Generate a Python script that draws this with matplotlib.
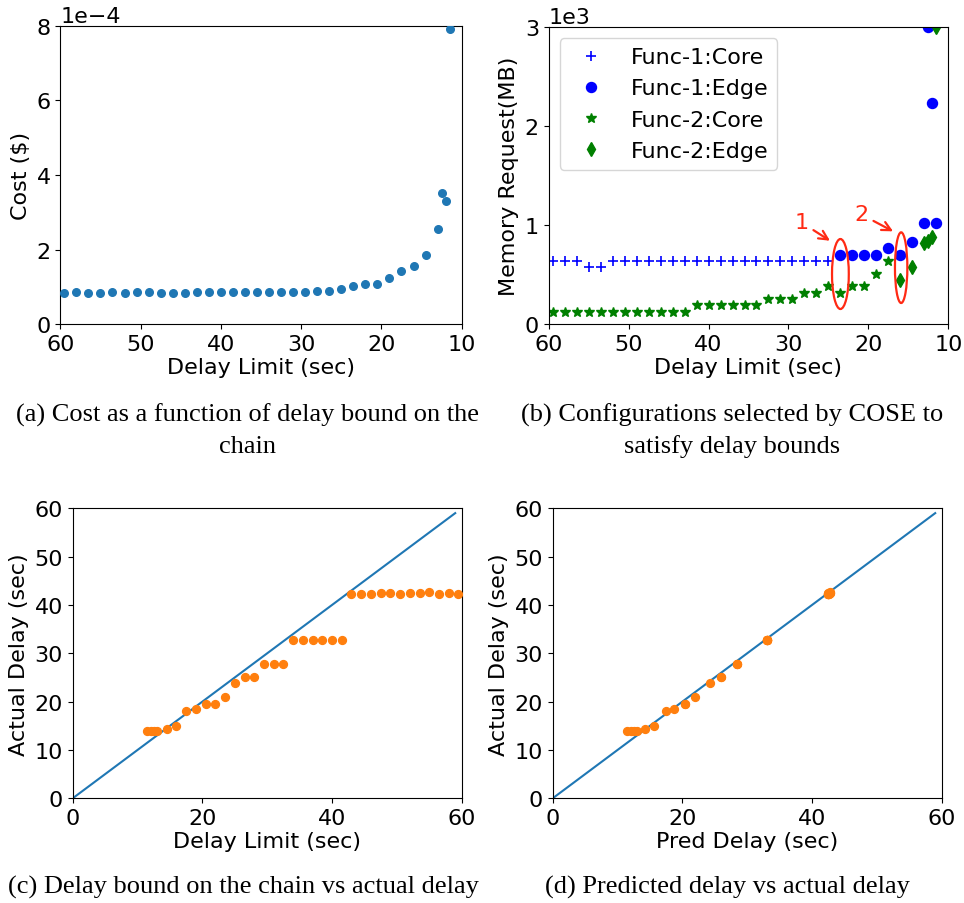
import numpy as np
import matplotlib
matplotlib.use("Agg")
import matplotlib.pyplot as plt
from matplotlib.patches import Ellipse

# ---------------- data ----------------
# delay limits (sec), ascending
delay_limit = [11.5, 12, 12.5, 13, 14.5, 16, 17.5, 19, 20.5, 22, 23.5, 25, 26.5, 28,
               29.5, 31, 32.5, 34, 35.5, 37, 38.5, 40, 41.5, 43, 44.5, 46, 47.5, 49,
               50.5, 52, 53.5, 55, 56.5, 58, 59.5]
# cost in units of 1e-4 $
cost_e4 = [7.92, 3.31, 3.52, 2.55, 1.86, 1.55, 1.44, 1.23, 1.07, 1.07, 1.03, 0.955, 0.90, 0.90,
           0.86, 0.86, 0.86, 0.86, 0.86, 0.86, 0.86, 0.86, 0.86, 0.86, 0.85, 0.85, 0.85, 0.86,
           0.86, 0.85, 0.86, 0.84, 0.85, 0.86, 0.84]
actual_delay = [14.0, 14.0, 14.0, 14.0, 14.34, 14.97, 18.14, 18.48, 19.59, 19.59, 20.9, 23.8,
                25.17, 25.17, 27.8, 27.8, 27.8, 32.76, 32.76, 32.76, 32.76, 32.76, 32.76,
                42.3, 42.3, 42.3, 42.5, 42.5, 42.3, 42.5, 42.5, 42.7, 42.3, 42.5, 42.3]
pred_delay = [11.5, 12.0, 12.5, 13.0, 14.2, 15.6, 17.5, 18.7, 20.4, 20.4, 21.95, 24.3,
              26.0, 26.0, 28.5, 28.5, 28.5, 33.0, 33.0, 33.0, 33.0, 33.0, 33.0,
              42.4, 42.5, 42.6, 42.7, 42.6, 42.4, 42.7, 42.5, 42.8, 42.5, 42.6, 42.4]

# memory requests (MB)
f1_core_x = [25, 26.5, 28, 29.5, 31, 32.5, 34, 35.5, 37, 38.5, 40, 41.5, 43, 44.5, 46,
             47.5, 49, 50.5, 52, 53.5, 55, 56.5, 58, 59.5]
f1_core_y = [640, 640, 640, 640, 640, 640, 640, 640, 640, 640, 640, 640, 640, 640, 640,
             640, 640, 640, 640, 576, 576, 640, 640, 640]
f1_edge_x = [11.5, 12, 12.5, 13, 14.5, 16, 17.5, 19, 20.5, 22, 23.5]
f1_edge_y = [1024, 2240, 3008, 1024, 832, 704, 768, 704, 704, 704, 704]
f2_core_x = [17.5, 19, 20.5, 22, 23.5, 25, 26.5, 28, 29.5, 31, 32.5, 34, 35.5, 37, 38.5,
             40, 41.5, 43, 44.5, 46, 47.5, 49, 50.5, 52, 53.5, 55, 56.5, 58, 59.5]
f2_core_y = [640, 512, 384, 384, 320, 384, 320, 320, 256, 256, 256, 192, 192, 192, 192,
             192, 192, 128, 128, 128, 128, 128, 128, 128, 128, 128, 128, 128, 128]
f2_edge_x = [11.5, 12, 12.5, 13, 14.5, 16]
f2_edge_y = [3008, 880, 845, 818, 576, 448]

diag = np.arange(0, 60)

FS = 16
plt.rcParams['font.family'] = ['DejaVu Sans']
plt.rcParams['font.size'] = FS

fig = plt.figure(figsize=(9.64, 9.04), dpi=100)
W, H = 964, 904

def axes_px(l, t, r, b):
    return fig.add_axes([l / W, 1 - b / H, (r - l) / W, (b - t) / H])

blue = '#1f77b4'
orange = '#ff7f0e'

# (a)
ax = axes_px(60.3, 26.7, 461.7, 325.3)
ax.scatter(delay_limit, np.array(cost_e4) * 1e-4, s=30, color=blue, zorder=3)
ax.set_xlim(60, 10)
ax.set_ylim(0, 8e-4)
ax.set_xticks([60, 50, 40, 30, 20, 10])
ax.set_yticks([0, 2e-4, 4e-4, 6e-4, 8e-4])
ax.ticklabel_format(axis='y', style='sci', scilimits=(0, 0))
ax.set_xlabel('Delay Limit (sec)', labelpad=2)
ax.set_ylabel('Cost ($)')

# (b)
ax = axes_px(548.7, 28.3, 948.3, 325.3)
ax.plot(f1_core_x, f1_core_y, '+', color='blue', ms=7, mew=1.2, label='Func-1:Core')
ax.plot(f1_edge_x, f1_edge_y, 'o', color='blue', ms=7.2, label='Func-1:Edge')
ax.plot(f2_core_x, f2_core_y, '*', color='green', ms=7.5, label='Func-2:Core')
ax.plot(f2_edge_x, f2_edge_y, 'd', color='green', ms=7, label='Func-2:Edge')
ax.set_xlim(60, 10)
ax.set_ylim(0, 3000)
ax.set_xticks([60, 50, 40, 30, 20, 10])
ax.set_yticks([0, 1000, 2000, 3000])
ax.ticklabel_format(axis='y', style='sci', scilimits=(0, 0))
ax.set_xlabel('Delay Limit (sec)', labelpad=2)
ax.set_ylabel('Memory Request(MB)')
ax.legend(loc='upper left', fontsize=FS)
red = '#ff2a14'
ax.add_patch(Ellipse((23.5, 508), 2.1, 707, fill=False, edgecolor=red, lw=1.6, zorder=4))
ax.add_patch(Ellipse((15.9, 572), 1.55, 714, fill=False, edgecolor=red, lw=1.6, zorder=4))
ax.annotate('1', xy=(24.8, 844), xytext=(28.4, 1030), color=red, ha='center', va='center',
            fontsize=FS, arrowprops=dict(arrowstyle='->', color=red, lw=1.6, shrinkA=2, shrinkB=0))
ax.annotate('2', xy=(16.9, 939), xytext=(20.9, 1110), color=red, ha='center', va='center',
            fontsize=FS, arrowprops=dict(arrowstyle='->', color=red, lw=1.6, shrinkA=2, shrinkB=0))

# (c)
ax = axes_px(72.7, 509.3, 461.7, 799.3)
ax.plot(diag, diag, color=blue, lw=1.5)
ax.scatter(delay_limit, actual_delay, s=32, color=orange, zorder=3)
ax.set_xlim(0, 60)
ax.set_ylim(0, 60)
ax.set_xticks([0, 20, 40, 60])
ax.set_yticks([0, 10, 20, 30, 40, 50, 60])
ax.set_xlabel('Delay Limit (sec)', labelpad=2)
ax.set_ylabel('Actual Delay (sec)')

# (d)
ax = axes_px(552.7, 509.3, 941.7, 799.3)
ax.plot(diag, diag, color=blue, lw=1.5)
ax.scatter(pred_delay, actual_delay, s=32, color=orange, zorder=3)
ax.set_xlim(0, 60)
ax.set_ylim(0, 60)
ax.set_xticks([0, 20, 40, 60])
ax.set_yticks([0, 10, 20, 30, 40, 50, 60])
ax.set_xlabel('Pred Delay (sec)', labelpad=2)
ax.set_ylabel('Actual Delay (sec)')

# captions
cap = dict(family=['Liberation Serif', 'DejaVu Serif'], fontsize=19, ha='center', va='center')
fig.text(248 / W, 1 - 415 / H, '(a) Cost as a function of delay bound on the', **cap)
fig.text(248 / W, 1 - 447 / H, 'chain', **cap)
fig.text(732 / W, 1 - 415 / H, '(b) Configurations selected by COSE to', **cap)
fig.text(732 / W, 1 - 447 / H, 'satisfy delay bounds', **cap)
fig.text(243 / W, 1 - 887 / H, '(c) Delay bound on the chain vs actual delay', **cap)
fig.text(727 / W, 1 - 887 / H, '(d) Predicted delay vs actual delay', **cap)

fig.savefig('out.png', dpi=100)
